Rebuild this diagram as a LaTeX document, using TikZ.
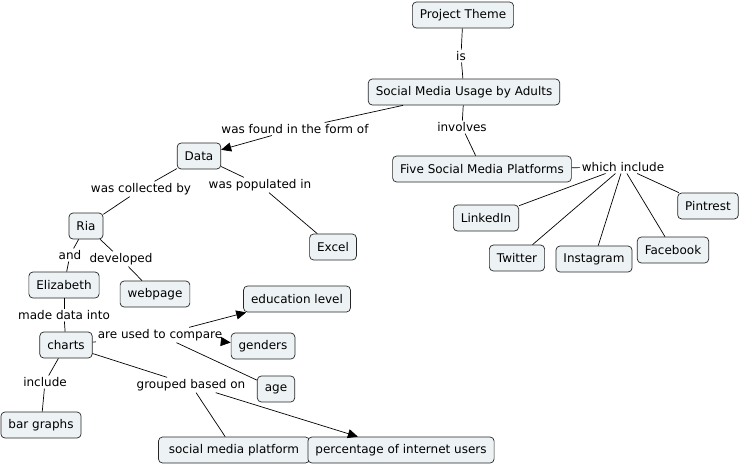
\documentclass[tikz,border=0pt]{standalone}
\usepackage{fontspec}
\setmainfont{DejaVu Sans}
\usetikzlibrary{arrows.meta}
\definecolor{cmapfill}{HTML}{EDF2F4}
\tikzset{
  concept/.style={draw=black!85, fill=cmapfill, rounded corners=4pt, minimum height=26pt, inner xsep=7.5pt, font=\fontsize{12}{14}\selectfont},
  phrase/.style={inner sep=1.5pt, font=\fontsize{12}{14}\selectfont},
}

\begin{document}
\begin{tikzpicture}[x=1pt,y=-1pt,line width=0.7pt,>={Triangle[length=10pt,width=9pt]}]
				\useasboundingbox (0,0) rectangle (743,467);
				% concepts
				\node[concept] (theme) at (463,15) {Project Theme};
				\node[concept] (usage) at (464,92) {Social Media Usage by Adults};
				\node[concept] (data) at (199,156) {Data};
				\node[concept] (five) at (482,169) {Five Social Media Platforms};
				\node[concept] (ria) at (86,226) {Ria};
				\node[concept] (excel) at (333,247) {Excel};
				\node[concept] (linkedin) at (486,218) {LinkedIn};
				\node[concept] (pintrest) at (708,206) {Pintrest};
				\node[concept] (twitter) at (517,258) {Twitter};
				\node[concept] (instagram) at (594,259) {Instagram};
				\node[concept] (facebook) at (673,250) {Facebook};
				\node[concept] (eliz) at (64,285) {Elizabeth};
				\node[concept] (webpage) at (155,294) {webpage};
				\node[concept] (edu) at (297,299) {education level};
				\node[concept] (charts) at (66,345) {charts};
				\node[concept] (genders) at (263,346) {genders};
				\node[concept] (age) at (276,389) {age};
				\node[concept] (bar) at (41,425) {bar graphs};
				\node[concept,minimum width=151pt] (platform) at (234,450) {social media platform};
				\node[concept] (pct) at (401,450) {percentage of internet users};
				% linking phrases
				\node[phrase] (is) at (461,56) {is};
				\node[phrase] (found) at (295,129) {was found in the form of};
				\node[phrase] (involves) at (462,127) {involves};
				\node[phrase] (which) at (623,167) {which include};
				\node[phrase] (collected) at (141,189) {was collected by};
				\node[phrase] (populated) at (260,185) {was populated in};
				\node[phrase] (and) at (70,255) {and};
				\node[phrase] (developed) at (121,259) {developed};
				\node[phrase] (made) at (64,315) {made data into};
				\node[phrase] (compare) at (160,335) {are used to compare};
				\node[phrase] (include) at (45,382) {include};
				\node[phrase] (grouped) at (191,385) {grouped based on};
				% connections
				\draw (theme) -- (is);
				\draw (is) -- (usage);
				\draw (usage) -- (found);
				\draw[->] (found) -- (data);
				\draw (usage) -- (involves);
				\draw (involves) -- (five);
				\draw (five) -- (which);
				\foreach \p in {linkedin,twitter,instagram,facebook,pintrest}
					\draw (which) -- (\p);
				\draw (data) -- (collected);
				\draw (collected) -- (ria);
				\draw (data) -- (populated);
				\draw (populated) -- (excel);
				\draw (ria) -- (and);
				\draw (and) -- (eliz);
				\draw (ria) -- (developed);
				\draw (developed) -- (webpage);
				\draw (eliz) -- (made);
				\draw (made) -- (charts);
				\draw (charts) -- (compare);
				\draw[->] (compare) -- (edu);
				\draw[->] (compare) -- (genders);
				\draw (compare) -- (age);
				\draw (charts) -- (include);
				\draw (include) -- (bar);
				\draw (charts) -- (grouped);
				\draw (grouped) -- (platform);
				\draw[->] (grouped) -- (pct);
			\end{tikzpicture}
\end{document}
